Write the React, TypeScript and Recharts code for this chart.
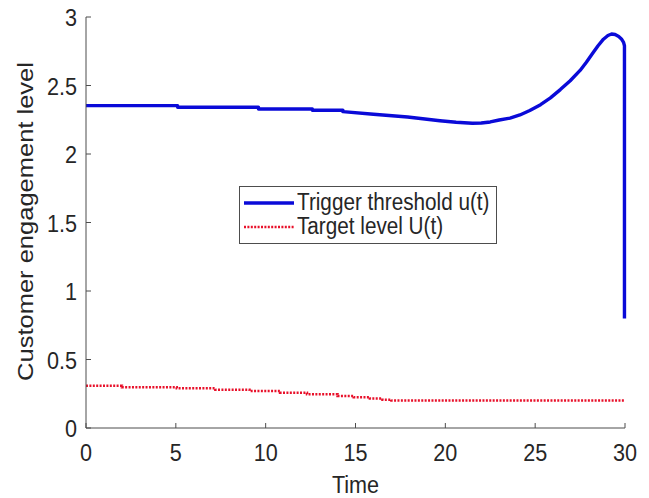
import { LineChart, Line, XAxis, YAxis } from "recharts";

// trigger threshold u(t): [time, level]
const thresholdTime = [
  0, 5.1, 5.1, 9.6, 9.6, 12.6, 12.6, 14.3, 14.3, 16, 17.9, 19.7, 20.6, 21.5,
  22.0, 22.5, 23.0, 23.6, 24.15, 24.7, 25.3, 25.85, 26.4, 26.95, 27.5, 27.85,
  28.2, 28.5, 28.8, 29.05, 29.25, 29.45, 29.65, 29.8, 29.92, 29.97, 29.97,
];
const thresholdLevel = [
  2.353, 2.353, 2.341, 2.341, 2.328, 2.328, 2.319, 2.319, 2.309, 2.29, 2.27,
  2.243, 2.232, 2.224, 2.226, 2.234, 2.248, 2.262, 2.285, 2.318, 2.36, 2.41,
  2.47, 2.535, 2.61, 2.67, 2.735, 2.79, 2.838, 2.865, 2.876, 2.872, 2.858,
  2.84, 2.815, 2.79, 0.8,
];

// target level U(t), piecewise constant
const targetTime = [0, 2, 5.05, 7.2, 9.1, 10.8, 12.3, 14, 14.9, 15.8, 16.5, 17, 30];
const targetLevel = [
  0.309, 0.297, 0.29, 0.28, 0.27, 0.258, 0.246, 0.234, 0.225, 0.215, 0.207, 0.2, 0.2,
];

const xTicks = [0, 5, 10, 15, 20, 25, 30];
const yTicks = [0, 0.5, 1, 1.5, 2, 2.5, 3];

const thresholdData = thresholdTime.map((t, i) => ({ t, v: thresholdLevel[i] }));
const targetData = targetTime.map((t, i) => ({ t, v: targetLevel[i] }));

const FONT = "'Liberation Sans', Arial, sans-serif";
const INK = "#262626";
const AXIS = "#4d4d4d";
const BLUE = "#0a0ad8";
const RED = "#e8102a";
// text in this figure is a little narrower than the font's natural width
const SQUEEZE = 0.9;

const BottomTick = ({ x, y, payload }: any) => (
  <g>
    <line x1={x} x2={x} y1={y} y2={y - 5} stroke={AXIS} />
    <text
      transform={`translate(${x},${y + 25}) scale(${SQUEEZE},1)`}
      textAnchor="middle"
      dominantBaseline="central"
      fontSize={24}
      fill={INK}
      fontFamily={FONT}
    >
      {payload.value}
    </text>
  </g>
);

const LeftTick = ({ x, y, payload }: any) => (
  <g>
    <line x1={x} x2={x + 5} y1={y} y2={y} stroke={AXIS} />
    <text
      transform={`translate(${x - 9},${y + 1}) scale(${SQUEEZE},1)`}
      textAnchor="end"
      dominantBaseline="central"
      fontSize={24}
      fill={INK}
      fontFamily={FONT}
    >
      {payload.value}
    </text>
  </g>
);

const TopTick = ({ x, y }: any) => <line x1={x} x2={x} y1={y} y2={y + 5} stroke={AXIS} />;
const RightTick = ({ x, y }: any) => <line x1={x} x2={x - 5} y1={y} y2={y} stroke={AXIS} />;

const TimeTitle = ({ viewBox }: any) => (
  <text
    transform={`translate(${viewBox.x + viewBox.width / 2},${viewBox.y + 65}) scale(${SQUEEZE},1)`}
    textAnchor="middle"
    fontSize={24}
    fill={INK}
    fontFamily={FONT}
  >
    Time
  </text>
);

const LevelTitle = ({ viewBox }: any) => (
  <text
    transform={`translate(${viewBox.x + 7},${viewBox.y + viewBox.height / 2 - 1}) rotate(-90) scale(1,${SQUEEZE})`}
    textAnchor="middle"
    fontSize={25.5}
    fill={INK}
    fontFamily={FONT}
  >
    Customer engagement level
  </text>
);

export default function App() {
  return (
    <div style={{ position: "absolute", left: 0, top: 0, width: 649, height: 498, background: "#fff", fontFamily: FONT }}>
      <LineChart width={649} height={498} margin={{ top: 17, right: 24, left: 26, bottom: 20 }}>
        <XAxis
          xAxisId="b"
          dataKey="t"
          type="number"
          domain={[0, 30]}
          ticks={xTicks}
          height={50}
          tickSize={0}
          tickMargin={0}
          tick={<BottomTick />}
          stroke={AXIS}
          label={{ content: <TimeTitle /> }}
        />
        <XAxis
          xAxisId="t"
          orientation="top"
          type="number"
          domain={[0, 30]}
          ticks={xTicks}
          height={0}
          tickSize={0}
          tick={<TopTick />}
          stroke={AXIS}
        />
        <YAxis
          yAxisId="l"
          type="number"
          domain={[0, 3]}
          ticks={yTicks}
          width={60}
          tickSize={0}
          tickMargin={0}
          tick={<LeftTick />}
          stroke={AXIS}
          label={{ content: <LevelTitle /> }}
        />
        <YAxis
          yAxisId="r"
          orientation="right"
          type="number"
          domain={[0, 3]}
          ticks={yTicks}
          width={0}
          tickSize={0}
          tick={<RightTick />}
          stroke={AXIS}
        />
        <Line
          xAxisId="b"
          yAxisId="l"
          data={targetData}
          dataKey="v"
          type="stepAfter"
          stroke={RED}
          strokeWidth={2.5}
          strokeDasharray="2 1.4"
          dot={false}
          isAnimationActive={false}
        />
        <Line
          xAxisId="b"
          yAxisId="l"
          data={thresholdData}
          dataKey="v"
          type="linear"
          stroke={BLUE}
          strokeWidth={3.4}
          strokeLinejoin="round"
          dot={false}
          isAnimationActive={false}
        />
      </LineChart>
      <div
        style={{
          position: "absolute",
          left: 239,
          top: 186,
          width: 258,
          height: 58,
          border: `1px solid ${AXIS}`,
          background: "#fff",
          boxSizing: "border-box",
          color: INK,
        }}
      >
        <svg width={60} height={58} style={{ position: "absolute", left: 0, top: 0 }}>
          <line x1={4} x2={54} y1={16} y2={16} stroke={BLUE} strokeWidth={3.4} />
          <line x1={4} x2={54} y1={40} y2={40} stroke={RED} strokeWidth={2.5} strokeDasharray="2 1.4" />
        </svg>
        <div
          style={{
            position: "absolute",
            left: 57,
            top: 3,
            fontSize: 23,
            lineHeight: "24px",
            whiteSpace: "nowrap",
            transform: `scaleX(${SQUEEZE})`,
            transformOrigin: "left top",
          }}
        >
          Trigger threshold u(t)
          <br />
          Target level U(t)
        </div>
      </div>
    </div>
  );
}
